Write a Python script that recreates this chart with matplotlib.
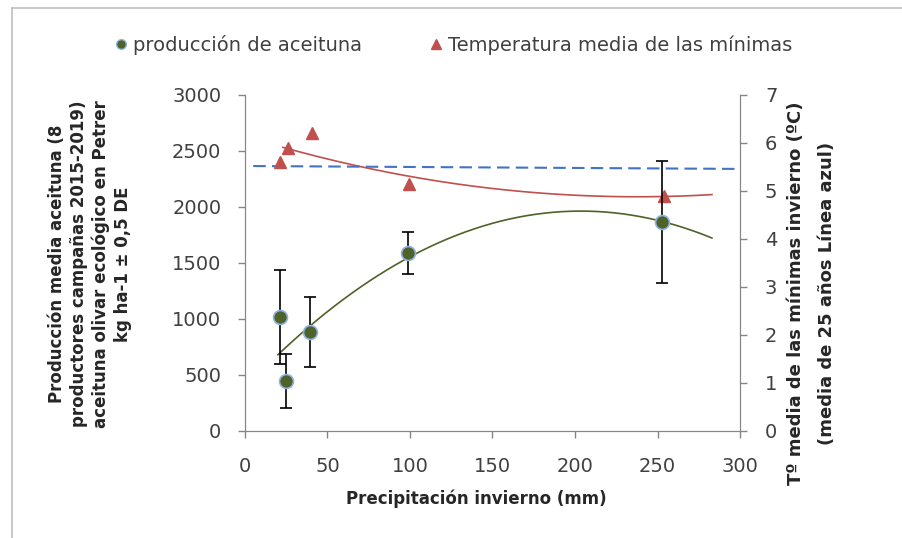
import numpy as np
import matplotlib
matplotlib.use("Agg")
import matplotlib.pyplot as plt
from matplotlib.lines import Line2D

# Production (left axis)
precip = [21, 25, 39.5, 99, 253]
production = [1018, 446, 884, 1589, 1866]
production_err = [420, 240, 310, 190, 545]

# Mean minimum winter temperature (right axis)
temp_precip = [21, 26, 40.5, 99.5, 254]
temp_min = [5.6, 5.9, 6.2, 5.15, 4.9]

# 25-year mean line (blue dashed)
mean25_x = [5, 300]
mean25_y = [5.52, 5.46]

x_ticks = [0, 50, 100, 150, 200, 250, 300]
left_ticks = [0, 500, 1000, 1500, 2000, 2500, 3000]
right_ticks = [0, 1, 2, 3, 4, 5, 6, 7]

GREEN = "#4F6228"
RED = "#C0504D"
BLUE = "#4472C4"
SPINE = "#868686"
TEXT = "#404040"
LABEL = "#262626"
W, H = 903, 538

fig = plt.figure(figsize=(W / 100, H / 100), dpi=100)
ax = fig.add_axes([245 / W, 1 - 431 / H, 495 / W, 336 / H])
ax2 = ax.twinx()

# outer chart frame (only top and left edges fall inside the image)
fig.add_artist(Line2D([12 / W, 1], [1 - 8 / H, 1 - 8 / H], transform=fig.transFigure,
                      color="#BFBFBF", lw=1.2))
fig.add_artist(Line2D([12 / W, 12 / W], [0, 1 - 8 / H], transform=fig.transFigure,
                      color="#BFBFBF", lw=1.2))

# quadratic trend lines (Excel-like polynomial trendlines)
cp = np.polyfit(precip, production, 2)
xs = np.linspace(20, 283, 200)
ax.plot(xs, np.polyval(cp, xs), color=GREEN, lw=1.2, zorder=2)

ct = np.polyfit(temp_precip, temp_min, 2)
xt = np.linspace(23, 283, 200)
ax2.plot(xt, np.polyval(ct, xt), color=RED, lw=1.2, zorder=2)

ax2.plot(mean25_x, mean25_y, color=BLUE, lw=1.5, ls=(0, (6, 3)), zorder=2)

ax.errorbar(precip, production, yerr=production_err, fmt="none", ecolor="black",
            elinewidth=1.2, capsize=4.5, capthick=1.2, zorder=3)
ax.plot(precip, production, "o", ms=10, mfc=GREEN, mec="#8DB4E2", mew=1.2,
        ls="none", zorder=4)
ax2.plot(temp_precip, temp_min, "^", ms=9, color=RED, ls="none", zorder=4)

ax.set_zorder(ax2.get_zorder() + 1)
ax.patch.set_visible(False)

ax.set_xlim(0, 300)
ax.set_ylim(0, 3000)
ax2.set_ylim(0, 7)
ax.set_xticks(x_ticks)
ax.set_yticks(left_ticks)
ax2.set_yticks(right_ticks)

for a in (ax, ax2):
    for s in a.spines.values():
        s.set_color(SPINE)
    a.spines["top"].set_visible(False)
    a.tick_params(colors=SPINE, labelcolor=TEXT, labelsize=14, length=5, width=1)
ax.tick_params(axis="y", pad=12)
ax2.tick_params(axis="y", pad=13)
ax.tick_params(axis="x", pad=14)

fig.text(476 / W, 1 - 499 / H, "Precipitación invierno (mm)", ha="center", va="center",
         fontsize=12, fontweight="bold", color=LABEL)
fig.text(90 / W, 1 - 264 / H,
         "Producción media aceituna (8\nproductores campañas 2015-2019)\n"
         "aceituna olivar ecológico en Petrer\nkg ha-1 ± 0,5 DE",
         rotation=90, ha="center", va="center", fontsize=12, fontweight="bold",
         color=LABEL, linespacing=1.25)
fig.text(796 / W, 1 - 293 / H, "Tº media de las mínimas invierno (ºC)",
         rotation=90, ha="center", va="center", fontsize=13, fontweight="bold", color=LABEL)
fig.text(827 / W, 1 - 293 / H, "(media de 25 años Línea azul)",
         rotation=90, ha="center", va="center", fontsize=13, fontweight="bold", color=LABEL)

h1 = Line2D([], [], marker="o", ls="none", ms=7, mfc=GREEN, mec="#8DB4E2")
h2 = Line2D([], [], marker="^", ls="none", ms=7, color=RED)
fig.legend([h1], ["producción de aceituna"], loc="center left",
           bbox_to_anchor=(98 / W, 1 - 45 / H), frameon=False, fontsize=14,
           handlelength=0.6, handletextpad=0.3, labelcolor=TEXT)
fig.legend([h2], ["Temperatura media de las mínimas"], loc="center left",
           bbox_to_anchor=(413 / W, 1 - 45 / H), frameon=False, fontsize=14,
           handlelength=0.6, handletextpad=0.3, labelcolor=TEXT)

fig.savefig("out.png", dpi=100)
